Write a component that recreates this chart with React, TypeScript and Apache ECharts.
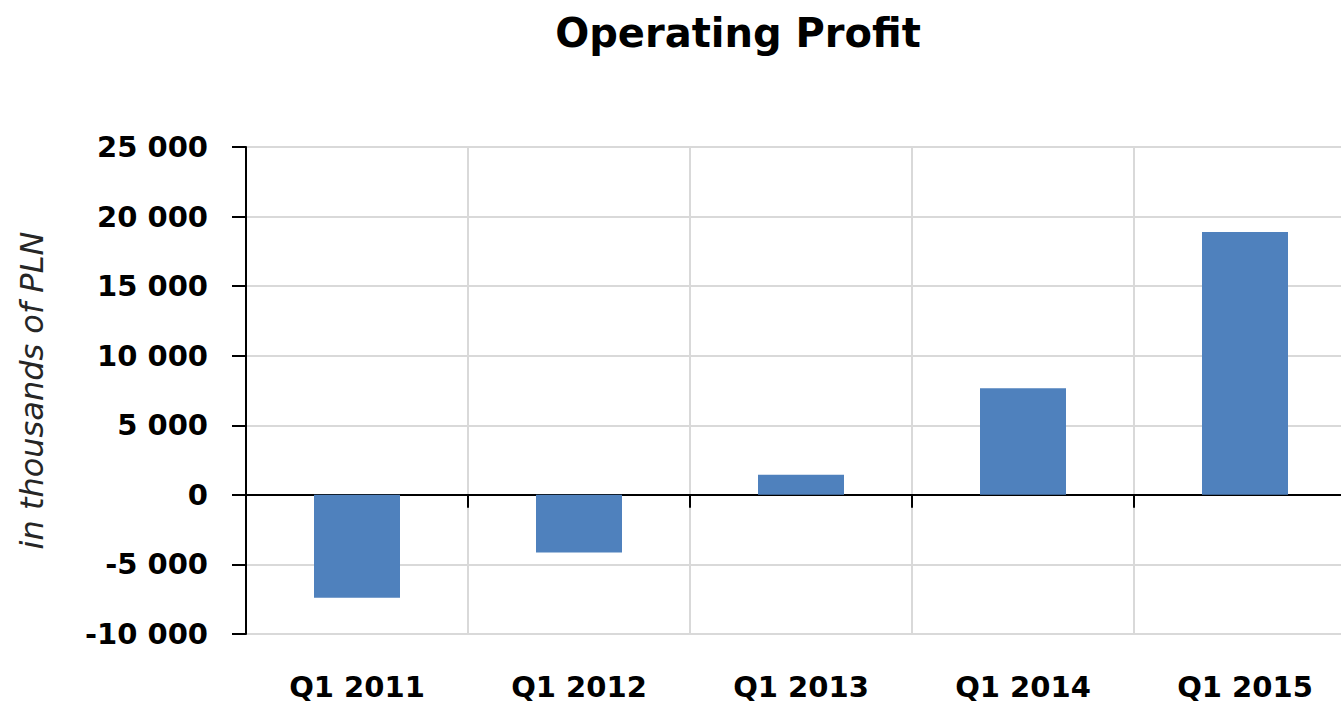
import React, { useEffect, useRef } from "react";
import * as echarts from "echarts";

const categories: string[] = ["Q1 2011", "Q1 2012", "Q1 2013", "Q1 2014", "Q1 2015"];
const operatingProfit: number[] = [-7400, -4140, 1440, 7670, 18900];
const yMin = -10000;
const yMax = 25000;
const yInterval = 5000;

const fmt = (v: number) => {
  const s = Math.abs(v).toString().replace(/\B(?=(\d{3})+(?!\d))/g, " ");
  return (v < 0 ? "-" : "") + s;
};

export default function App() {
  const ref = useRef<HTMLDivElement>(null);
  useEffect(() => {
    if (!ref.current) return;
    const chart = echarts.init(ref.current, undefined, { renderer: "svg" });
    chart.setOption({
      animation: false,
      backgroundColor: "#ffffff",
      title: {
        text: "Operating Profit",
        left: 733,
        top: 8,
        textAlign: "center",
        textStyle: {
          fontFamily: "DejaVu Sans",
          fontWeight: "bold",
          fontSize: 40,
          color: "#000000",
        },
      },
      grid: { left: 246, right: 0, top: 147, bottom: 72, containLabel: false, outerBoundsMode: "none" },
      xAxis: {
        type: "category",
        data: categories,
        axisLine: { show: true, onZero: true, lineStyle: { color: "#000000", width: 2 } },
        axisTick: { show: true, interval: 0, length: 13, lineStyle: { color: "#000000", width: 2 } },
        axisLabel: {
          margin: 38,
          color: "#000000",
          fontFamily: "DejaVu Sans",
          fontWeight: "bold",
          fontSize: 29,
          interval: 0,
        },
        splitLine: { show: true, interval: 0, lineStyle: { color: "#d9d9d9", width: 2 } },
      },
      yAxis: {
        type: "value",
        min: yMin,
        max: yMax,
        interval: yInterval,
        name: "in thousands of PLN",
        nameLocation: "middle",
        nameRotate: 90,
        nameGap: 198,
        nameTextStyle: {
          fontFamily: "DejaVu Sans",
          fontStyle: "italic",
          fontSize: 32,
          color: "#262626",
        },
        axisLine: { show: true, lineStyle: { color: "#000000", width: 2 } },
        axisTick: { show: true, length: 14, lineStyle: { color: "#000000", width: 2 } },
        axisLabel: {
          margin: 38,
          color: "#000000",
          fontFamily: "DejaVu Sans",
          fontWeight: "bold",
          fontSize: 29,
          formatter: (v: number) => fmt(v),
        },
        splitLine: { show: true, lineStyle: { color: "#d9d9d9", width: 2 } },
      },
      series: [
        {
          type: "bar",
          data: operatingProfit,
          barWidth: 86,
          itemStyle: { color: "#4f81bd" },
        },
      ],
    });
    return () => chart.dispose();
  }, []);
  return (
    <div style={{ position: "absolute", left: 0, top: 0, width: 1341, height: 706, overflow: "hidden" }}>
      <div ref={ref} style={{ width: 1356, height: 706 }} />
    </div>
  );
}
